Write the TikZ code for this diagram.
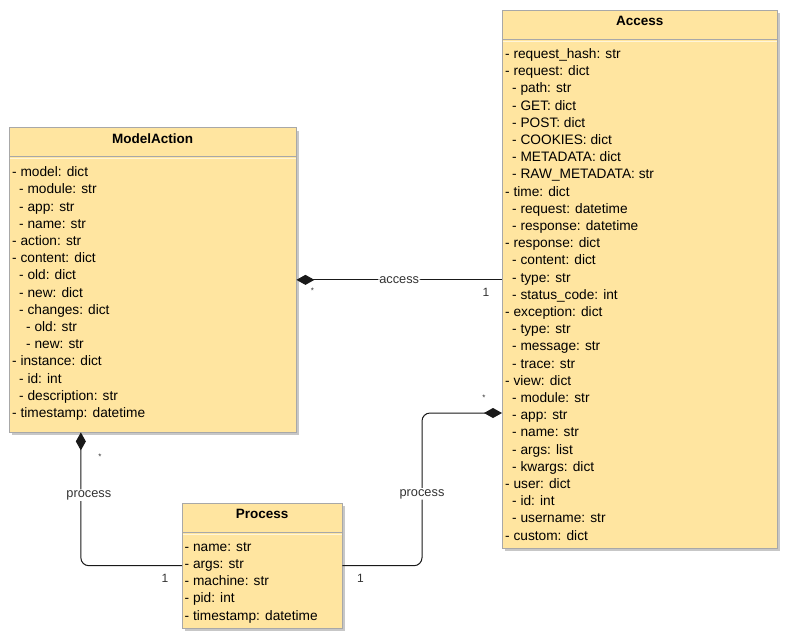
\documentclass[tikz,border=0pt]{standalone}
\usepackage{fontspec}
\setmainfont{Liberation Sans}
\usetikzlibrary{arrows.meta, positioning, calc, shadows}
\definecolor{umlfill}{HTML}{FFE5A0}
\definecolor{umlline}{HTML}{A8A8A8}
\definecolor{lblgray}{HTML}{333333}
\newcommand{\sub}{\hspace*{7pt}}

\begin{document}
\begin{tikzpicture}[x=1pt, y=-1pt,
    classbox/.style={draw=umlline, fill=umlfill, anchor=north west, inner sep=0pt,
      drop shadow={shadow xshift=3pt, shadow yshift=-3pt, fill=black!22, opacity=1}},
    title/.style={anchor=base, inner sep=0pt, font=\fontsize{13.5}{16}\selectfont\bfseries, text=black},
    attrs/.style={anchor=north west, inner sep=0pt, align=left, font=\fontsize{13.7}{17.2}\selectfont, text=black},
    sep/.style={draw=umlline, line width=1pt},
    assoc/.style={draw=black!90, line width=1pt, rounded corners=8pt},
    comp/.tip={Diamond[length=18pt, width=10pt]},
    lbl/.style={fill=white, inner sep=1pt, font=\fontsize{12.8}{15}\selectfont, text=lblgray},
    mult/.style={inner sep=0pt, font=\fontsize{12}{14}\selectfont, text=lblgray}
  ]
  \useasboundingbox (0,0) rectangle (786,638);

  % classes
  \node[classbox, minimum width=287pt, minimum height=304.7pt] (ma) at (9,127.3) {};
  \node[classbox, minimum width=275pt, minimum height=538pt] (acc) at (502,10) {};
  \node[classbox, minimum width=160pt, minimum height=125pt] (proc) at (182,503) {};

  \node[title] at ($(ma.north)+(0,16.5)$) {ModelAction};
  \node[title] at ($(acc.north)+(0,15.7)$) {Access};
  \node[title] at ($(proc.north)+(0,15)$) {Process};

  \draw[sep] ($(ma.north west)+(0,29.5)$) -- ($(ma.north east)+(0,29.5)$);
  \draw[sep] ($(acc.north west)+(0,29.5)$) -- ($(acc.north east)+(0,29.5)$);
  \draw[sep] ($(proc.north west)+(0,29.5)$) -- ($(proc.north east)+(0,29.5)$);
  \draw[white!60!umlfill, line width=1pt] ($(ma.north west)+(0.5,31)$) -- ($(ma.north east)+(-0.5,31)$);
  \draw[white!60!umlfill, line width=1pt] ($(acc.north west)+(0.5,31)$) -- ($(acc.north east)+(-0.5,31)$);
  \draw[white!60!umlfill, line width=1pt] ($(proc.north west)+(0.5,31)$) -- ($(proc.north east)+(-0.5,31)$);

  \node[attrs] (maattrs) at ($(ma.north west)+(3,39.2)$) {\rule{0pt}{10pt}- model: dict\\
    \sub- module: str\\ \sub- app: str\\ \sub- name: str\\
    - action: str\\ - content: dict\\
    \sub- old: dict\\ \sub- new: dict\\ \sub- changes: dict\\
    \sub\sub- old: str\\ \sub\sub- new: str\\
    - instance: dict\\ \sub- id: int\\ \sub- description: str\\
    - timestamp: datetime};

  \node[attrs] (accattrs) at ($(acc.north west)+(3,38.3)$) {\rule{0pt}{10pt}- request\_hash: str\\
    - request: dict\\ \sub- path: str\\ \sub- GET: dict\\ \sub- POST: dict\\
    \sub- COOKIES: dict\\ \sub- METADATA: dict\\ \sub- RAW\_METADATA: str\\
    - time: dict\\ \sub- request: datetime\\ \sub- response: datetime\\
    - response: dict\\ \sub- content: dict\\ \sub- type: str\\ \sub- status\_code: int\\
    - exception: dict\\ \sub- type: str\\ \sub- message: str\\ \sub- trace: str\\
    - view: dict\\ \sub- module: str\\ \sub- app: str\\ \sub- name: str\\
    \sub- args: list\\ \sub- kwargs: dict\\
    - user: dict\\ \sub- id: int\\ \sub- username: str\\
    - custom: dict};

  \node[attrs] (procattrs) at ($(proc.north west)+(2.5,38)$) {\rule{0pt}{10pt}- name: str\\
    - args: str\\ - machine: str\\ - pid: int\\ - timestamp: datetime};

  % associations
  \coordinate (bend) at (422,413);
  \draw[assoc, comp-] (ma.east) -- node[lbl] {access} (ma.east -| acc.west);
  \draw[assoc, comp-] ($(ma.south west)!0.25!(ma.south east)$) |- node[lbl, pos=0.235, xshift=8pt] {process} (proc.west);
  \draw[assoc, -comp] (proc.east) -| node[lbl, pos=0.735] {process} (bend) -- (bend -| acc.west);

  % multiplicities
  \node[mult, font=\fontsize{8}{9}\selectfont] at ($(ma.east)+(16,11)$) {*};
  \node[mult] at ($(ma.east -| acc.west)+(-16,13)$) {1};
  \node[mult, font=\fontsize{8}{9}\selectfont] at ($(ma.south west)!0.25!(ma.south east)+(19,24)$) {*};
  \node[mult] at ($(proc.west)+(-17,13)$) {1};
  \node[mult, font=\fontsize{8}{9}\selectfont] at ($(bend -| acc.west)+(-18,-15)$) {*};
  \node[mult] at ($(proc.east)+(18,13)$) {1};
\end{tikzpicture}
\end{document}
